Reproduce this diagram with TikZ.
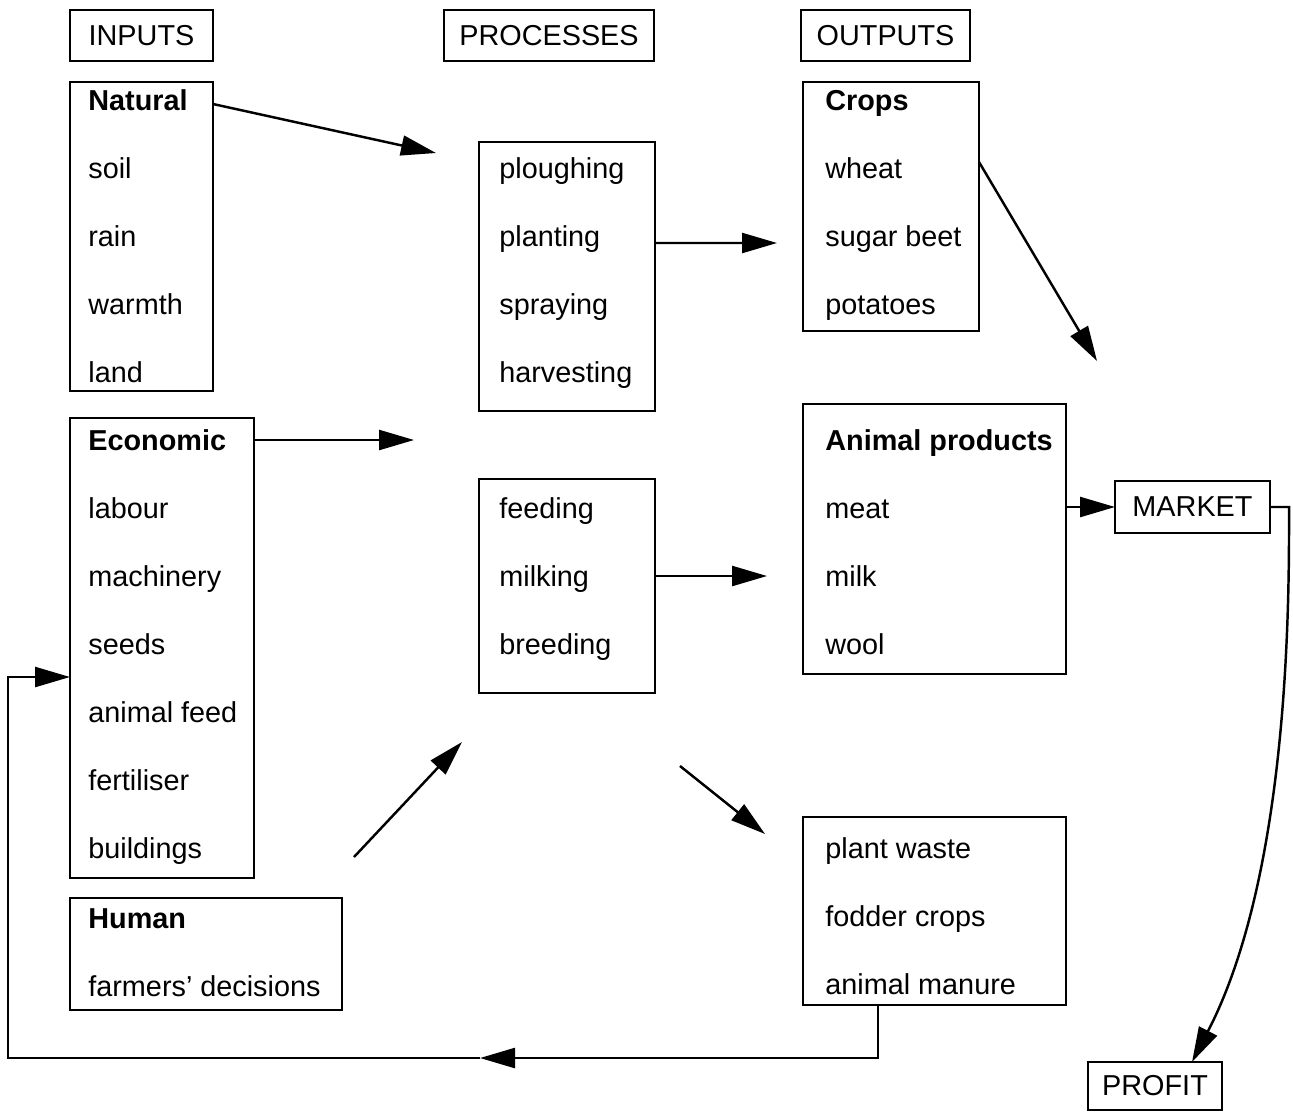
\documentclass[tikz,border=0pt]{standalone}
\usepackage{fontspec}
\setmainfont{Liberation Sans}
\usetikzlibrary{arrows.meta,calc,fit}
\begin{document}
\begin{tikzpicture}[x=0.02cm,y=-0.02cm,
  box/.style={draw,line width=1.4pt,inner sep=0pt,outer sep=0pt},
  txt/.style={anchor=base west,inner sep=0pt,font=\fontsize{16.4}{19}\selectfont},
  ctxt/.style={anchor=center,inner sep=0pt,font=\fontsize{16.4}{19}\selectfont},
  arr/.style={line width=1.4pt,-{Triangle[length=0.7cm,width=0.4cm]}},
  plain/.style={line width=1.4pt}]
\useasboundingbox (0,0) rectangle (1293,1113);

% boxes
\node[box,fit={(70,10) (213,61)}] (inputs) {};
\node[box,fit={(444,10) (654,61)}] (processes) {};
\node[box,fit={(801,10) (970,61)}] (outputs) {};
\node[box,fit={(70,82) (213,391)}] (natbox) {};
\node[box,fit={(70,418) (254,878)}] (ecobox) {};
\node[box,fit={(70,898) (342,1010)}] (humbox) {};
\node[box,fit={(479,142) (655,411)}] (procA) {};
\node[box,fit={(479,479) (655,693)}] (procB) {};
\node[box,fit={(803,82) (979,331)}] (crops) {};
\node[box,fit={(803,404) (1066,674)}] (animal) {};
\node[box,fit={(803,817) (1066,1005)}] (waste) {};
\node[box,fit={(1115,481) (1270,533)}] (market) {};
\node[box,fit={(1088,1062) (1222,1110)}] (profit) {};

% headings
\node[ctxt] (tinputs) at (inputs.center) {INPUTS};
\node[ctxt] (tprocesses) at (processes.center) {PROCESSES};
\node[ctxt] (toutputs) at (outputs.center) {OUTPUTS};
\node[ctxt] (tmarket) at (market.center) {MARKET};
\node[ctxt] (tprofit) at (profit.center) {PROFIT};

% inputs
\node[txt] (nath) at (88,110) {\textbf{Natural}};
\foreach \t [count=\i from 0] in {soil,rain,warmth,land}
  \node[txt] (nat\i) at (88,178+68*\i) {\t};
\node[txt] (ecoh) at (88,450) {\textbf{Economic}};
\foreach \t [count=\i from 0] in {labour,machinery,seeds,animal feed,fertiliser,buildings}
  \node[txt] (eco\i) at (88,518+68*\i) {\t};
\node[txt] (humh) at (88,928) {\textbf{Human}};
\node[txt] (hum0) at (88,996) {farmers' decisions};

% processes
\foreach \t [count=\i from 0] in {ploughing,planting,spraying,harvesting}
  \node[txt] (pa\i) at (499,178+68*\i) {\t};
\foreach \t [count=\i from 0] in {feeding,milking,breeding}
  \node[txt] (pb\i) at (499,518+68*\i) {\t};

% outputs
\node[txt] (croph) at (825,110) {\textbf{Crops}};
\foreach \t [count=\i from 0] in {wheat,sugar beet,potatoes}
  \node[txt] (crop\i) at (825,178+68*\i) {\t};
\node[txt] (anih) at (825,450) {\textbf{Animal products}};
\foreach \t [count=\i from 0] in {meat,milk,wool}
  \node[txt] (ani\i) at (825,518+68*\i) {\t};
\foreach \t [count=\i from 0] in {plant waste,fodder crops,animal manure}
  \node[txt] (was\i) at (825,858+68*\i) {\t};

% free ends
\coordinate (pnat) at (436,153);
\coordinate (peco) at (414,440);
\coordinate (hstart) at (354,857);
\coordinate (hend) at (462,742);
\coordinate (oplant) at (777,243);
\coordinate (omilk) at (767,576);
\coordinate (wstart) at (680,766);
\coordinate (wend) at (765,834);
\coordinate (cend) at (1097,361);
\coordinate (mid) at (480,1058);

% connectors
\draw[arr] ($(natbox.north east)+(0,22)$) -- (pnat);
\draw[arr] ($(ecobox.north east)+(0,22)$) -- (peco);
\draw[arr] (hstart) -- (hend);
\draw[arr] ($(procA.north east)+(0,101)$) -- (oplant);
\draw[arr] ($(procB.north east)+(0,97)$) -- (omilk);
\draw[arr] (wstart) -- (wend);
\draw[arr] ($(crops.north east)+(0,80)$) -- (cend);
\draw[arr] ($(animal.north east)+(0,103)$) -- (market.west);
\draw[arr] (market.east) -- (1289,507) -- (1289,530)
  .. controls (1289,800) and (1250,950) .. ($(profit.north)+(37,0)$);
\draw[arr] ($(waste.south west)+(75,0)$) |- (mid);
\draw[arr] (mid) -- (8,1058) -- (8,677) -- ($(ecobox.north west)+(0,259)$);
\end{tikzpicture}
\end{document}
